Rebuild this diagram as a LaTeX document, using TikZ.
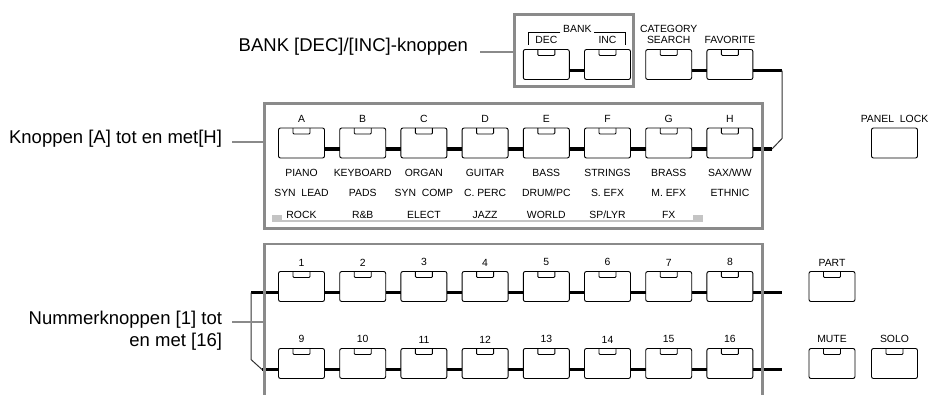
\documentclass[tikz,border=0pt]{standalone}
\usepackage{fontspec}
\setmainfont{Liberation Sans}
\usetikzlibrary{
  positioning,
  calc
}
\definecolor{pnGray}{HTML}{8A8A8A}
\definecolor{pnGrayL}{HTML}{C4C4C4}

\begin{document}
\begin{tikzpicture}[
  x=1pt, y=-1pt,
  every node/.style={font=\fontsize{10.4}{11}\selectfont, inner sep=0pt, outer sep=0pt},
  callout/.style={font=\fontsize{18.5}{22}\selectfont, align=right},
  key/.style={
    rectangle, rounded corners=2pt,
    draw=black, fill=white, line width=0.9pt,
    minimum width=46pt, minimum height=30pt
  },
  ledkey/.style={
    key,
    path picture={
      \draw[line width=0.9pt, rounded corners=1pt]
        ([shift={(-8.5,-2)}]path picture bounding box.north) --
        ([shift={(-8.5,6)}]path picture bounding box.north) --
        ([shift={(8.5,6)}]path picture bounding box.north) --
        ([shift={(8.5,-2)}]path picture bounding box.north);
    }
  },
  panel/.style={rectangle, draw=pnGray, line width=2.6pt},
  link/.style={black, line width=3.6pt},
  wire/.style={black!80, line width=1pt},
  bracket/.style={black, line width=0.8pt},
  leader/.style={pnGray, line width=2pt}
]
 \useasboundingbox (0,0) rectangle (929,394);

 % Bank and search keys
 \node[ledkey] (dec) at (546.3,64.5) {};
 \node[ledkey] (inc) at (607.5,64.5) {};
 \node[ledkey] (catsearch) at (668.7,64.5) {};
 \node[ledkey] (fav) at (729.9,64.5) {};
 \node[above=5.5pt of dec] (dectxt) {DEC};
 \node[above=5.5pt of inc] (inctxt) {INC};
 \node[above=5.5pt of catsearch, align=center] (cattxt) {CATEGORY\\SEARCH};
 \node[above=5.5pt of fav] (favtxt) {FAVORITE};
 \node (banktxt) at (577.3,29) {BANK};
 \draw[bracket] ([xshift=-17pt]banktxt.base) -| ([shift={(-48.5,12)}]banktxt.base);
 \draw[bracket] ([xshift=17pt]banktxt.base) -| ([shift={(48.5,12)}]banktxt.base);

 \draw[link] ([yshift=-6pt]dec.east) -- ([yshift=-6pt]inc.west);
 \draw[link] ([yshift=-6pt]catsearch.east) -- ([yshift=-6pt]fav.west);

 % Keys A-H with their categories
 \foreach \i/\name/\ta/\tb/\tc in {1/A/PIANO/SYN\ \ LEAD/ROCK,
             2/B/KEYBOARD/PADS/R\&B, 3/C/ORGAN/SYN\ \ COMP/ELECT,
             4/D/GUITAR/C. PERC/JAZZ, 5/E/BASS/{DRUM/PC}/WORLD,
             6/F/STRINGS/S. EFX/{SP/LYR}, 7/G/BRASS/M. EFX/FX,
             8/H/{SAX/WW}/ETHNIC/} {
  \node[ledkey] (k\name) at ({301.5+61.2*(\i-1)},143) {};
  \node[above=5.5pt of k\name] (l\name) {\name};
  \node (c\name1) at ({301.5+61.2*(\i-1)},173) {\ta};
  \node (c\name2) at ({301.5+61.2*(\i-1)},193) {\tb};
  \node (c\name3) at ({301.5+61.2*(\i-1)},215) {\tc};
 }
 \foreach \a/\b in {A/B, B/C, C/D, D/E, E/F, F/G, G/H} {
  \draw[link] ([yshift=-6pt]k\a.east) -- ([yshift=-6pt]k\b.west);
 }

 % Chain from FAVORITE down to H
 \coordinate (jtop) at (782,70.5);
 \coordinate (jbot) at (772,149);
 \draw[link] ([yshift=-6pt]fav.east) -- (jtop);
 \draw[wire] (jtop) -- ++(0,68) -- (jbot);
 \draw[link] (jbot) -- ([yshift=-6pt]kH.east);

 % Number keys
 \foreach \i in {1,...,8} {
  \node[ledkey] (n\i) at ({301.5+61.2*(\i-1)},286.5) {};
  \node[above=5.5pt of n\i] {\i};
 }
 \foreach \i in {9,...,16} {
  \node[ledkey] (n\i) at ({301.5+61.2*(\i-9)},363.5) {};
  \node[above=5.5pt of n\i] {\i};
 }
 \foreach \a/\b in {1/2, 2/3, 3/4, 4/5, 5/6, 6/7, 7/8,
             9/10, 10/11, 11/12, 12/13, 13/14, 14/15, 15/16} {
  \draw[link] ([yshift=-6pt]n\a.east) -- ([yshift=-6pt]n\b.west);
 }
 \coordinate (lt) at (251,292.5);
 \coordinate (lb) at (262,369.5);
 \coordinate (rt) at (782,292.5);
 \coordinate (rb) at (782,369.5);
 \draw[link] (lt) -- ([yshift=-6pt]n1.west);
 \draw[wire] (lt) -- ++(0,67) -- (lb);
 \draw[link] (lb) -- ([yshift=-6pt]n9.west);
 \draw[link] ([yshift=-6pt]n8.east) -- (rt);
 \draw[link] ([yshift=-6pt]n16.east) -- (rb);

 % Keys on the right
 \node[key] (lock) at (894.5,143) {};
 \node[above=5.5pt of lock] {PANEL\ \ LOCK};
 \node[ledkey] (part) at (832,286.5) {};
 \node[above=5.5pt of part] {PART};
 \node[ledkey] (mute) at (832,363.5) {};
 \node[above=5.5pt of mute] {MUTE};
 \node[ledkey] (solo) at (894.5,363.5) {};
 \node[above=5.5pt of solo] {SOLO};

 % Panels
 \node[panel, minimum width=119pt, minimum height=72pt] (bankpanel) at (574,50.5) {};
 \node[panel, minimum width=498pt, minimum height=125.5pt] (catpanel) at (513.5,166) {};
 \node[panel, minimum width=498pt, minimum height=186pt] (numpanel) at (513.5,337) {};
 \fill[pnGrayL] (272,215) rectangle (282,222);
 \fill[pnGrayL] (693,215) rectangle (703,222);
 \draw[pnGrayL, line width=1.5pt] (282,221.2) -- (693,221.2);

 % Callouts
 \node[callout, anchor=east] (banklbl) at (468,46.5) {BANK [DEC]/[INC]-knoppen};
 \coordinate (banktip) at (480,52);
 \draw[leader] (banktip) -- (banktip -| bankpanel.west);
 \node[callout, anchor=east] (catlbl) at (222,138.5) {Knoppen [A] tot en met[H]};
 \coordinate (cattip) at (232,142);
 \draw[leader] (cattip) -- (cattip -| catpanel.west);
 \node[callout, anchor=east] (numlbl) at (222,331) {Nummerknoppen [1] tot\\en met [16]};
 \coordinate (numtip) at (232,322);
 \draw[leader] (numtip) -- (numtip -| numpanel.west);
\end{tikzpicture}
\end{document}
